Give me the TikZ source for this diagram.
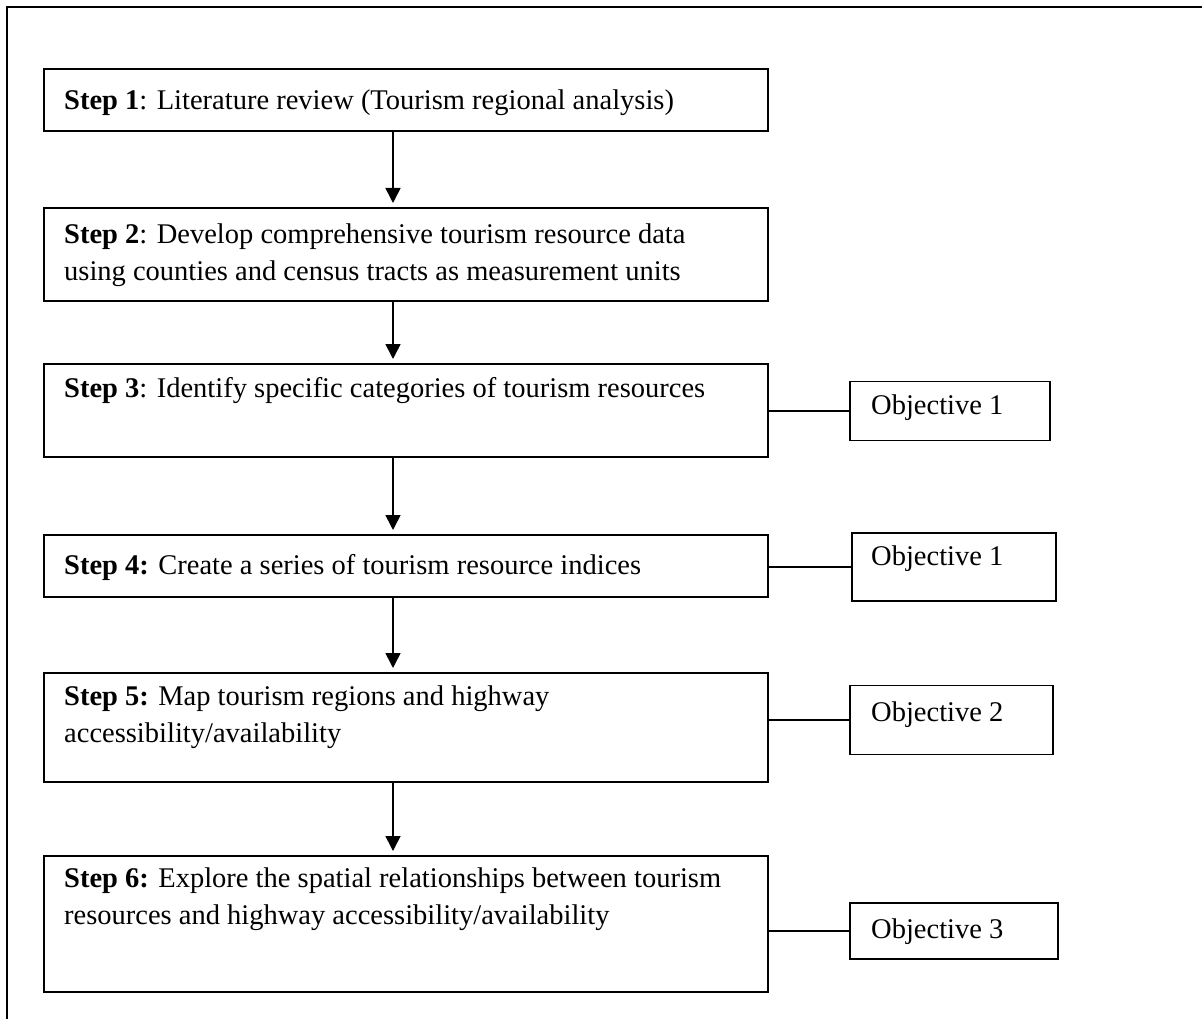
\documentclass[tikz,border=0pt]{standalone}
\usepackage{fontspec}
\setmainfont{Liberation Serif}
\usetikzlibrary{arrows.meta}
\begin{document}
\begin{tikzpicture}[x=1pt,y=-1pt,
  stepbox/.style={draw=black,line width=1.6pt,minimum width=724pt,inner sep=0pt,outer sep=0pt},
  objbox/.style={draw=black,line width=1.6pt,inner sep=0pt,outer sep=0pt},
  txt/.style={anchor=base west,inner sep=0pt,align=left,font=\fontsize{28.5}{37}\selectfont},
  arr/.style={line width=1.6pt,-{Triangle[length=15pt,width=15pt]},shorten >=5pt},
  conn/.style={line width=2pt}]
\useasboundingbox (0,0) rectangle (1202,1019);
\fill[white] (0,0) rectangle (1202,1019);
\draw[line width=1.6pt] (7,1019) -- (7,7) -- (1202,7);
% step boxes
\node[stepbox,minimum height=62pt] (s1) at (406,100) {};
\node[stepbox,minimum height=93pt] (s2) at (406,254.5) {};
\node[stepbox,minimum height=93pt] (s3) at (406,410.5) {};
\node[stepbox,minimum height=62pt] (s4) at (406,566) {};
\node[stepbox,minimum height=109pt] (s5) at (406,727.5) {};
\node[stepbox,minimum height=136pt] (s6) at (406,924) {};
% step texts (base anchor = last line's baseline)
\node[txt] (t1) at (64,110) {\textbf{Step 1}: Literature review (Tourism regional analysis)};
\node[txt] (t2) at (64,280) {\textbf{Step 2}: Develop comprehensive tourism resource data\\using counties and census tracts as measurement units};
\node[txt] (t3) at (64,397) {\textbf{Step 3}: Identify specific categories of tourism resources};
\node[txt] (t4) at (64,574) {\textbf{Step 4:} Create a series of tourism resource indices};
\node[txt] (t5) at (64,742) {\textbf{Step 5:} Map tourism regions and highway\\accessibility/availability};
\node[txt] (t6) at (64,924) {\textbf{Step 6:} Explore the spatial relationships between tourism\\resources and highway accessibility/availability};
% objective boxes
\node[objbox,minimum width=200pt,minimum height=59pt] (o1) at (950,411) {};
\node[objbox,minimum width=204pt,minimum height=68pt] (o2) at (954,567) {};
\node[objbox,minimum width=203pt,minimum height=69pt] (o3) at (951.5,720) {};
\node[objbox,minimum width=208pt,minimum height=56pt] (o4) at (954,931) {};
\node[txt] (ot1) at (871,414) {Objective 1};
\node[txt] (ot2) at (871,565) {Objective 1};
\node[txt] (ot3) at (871,721) {Objective 2};
\node[txt] (ot4) at (871,938) {Objective 3};
% arrows
\coordinate (ax) at (393,0);
\draw[arr] (s1.south -| ax) -- (s2.north -| ax);
\draw[arr] (s2.south -| ax) -- (s3.north -| ax);
\draw[arr] (s3.south -| ax) -- (s4.north -| ax);
\draw[arr] (s4.south -| ax) -- (s5.north -| ax);
\draw[arr] (s5.south -| ax) -- (s6.north -| ax);
% connectors
\draw[conn] (o1.west) -- (o1.west -| s3.east);
\draw[conn] (o2.west) -- (o2.west -| s4.east);
\draw[conn] (o3.west) -- (o3.west -| s5.east);
\draw[conn] (o4.west) -- (o4.west -| s6.east);
\end{tikzpicture}
\end{document}
